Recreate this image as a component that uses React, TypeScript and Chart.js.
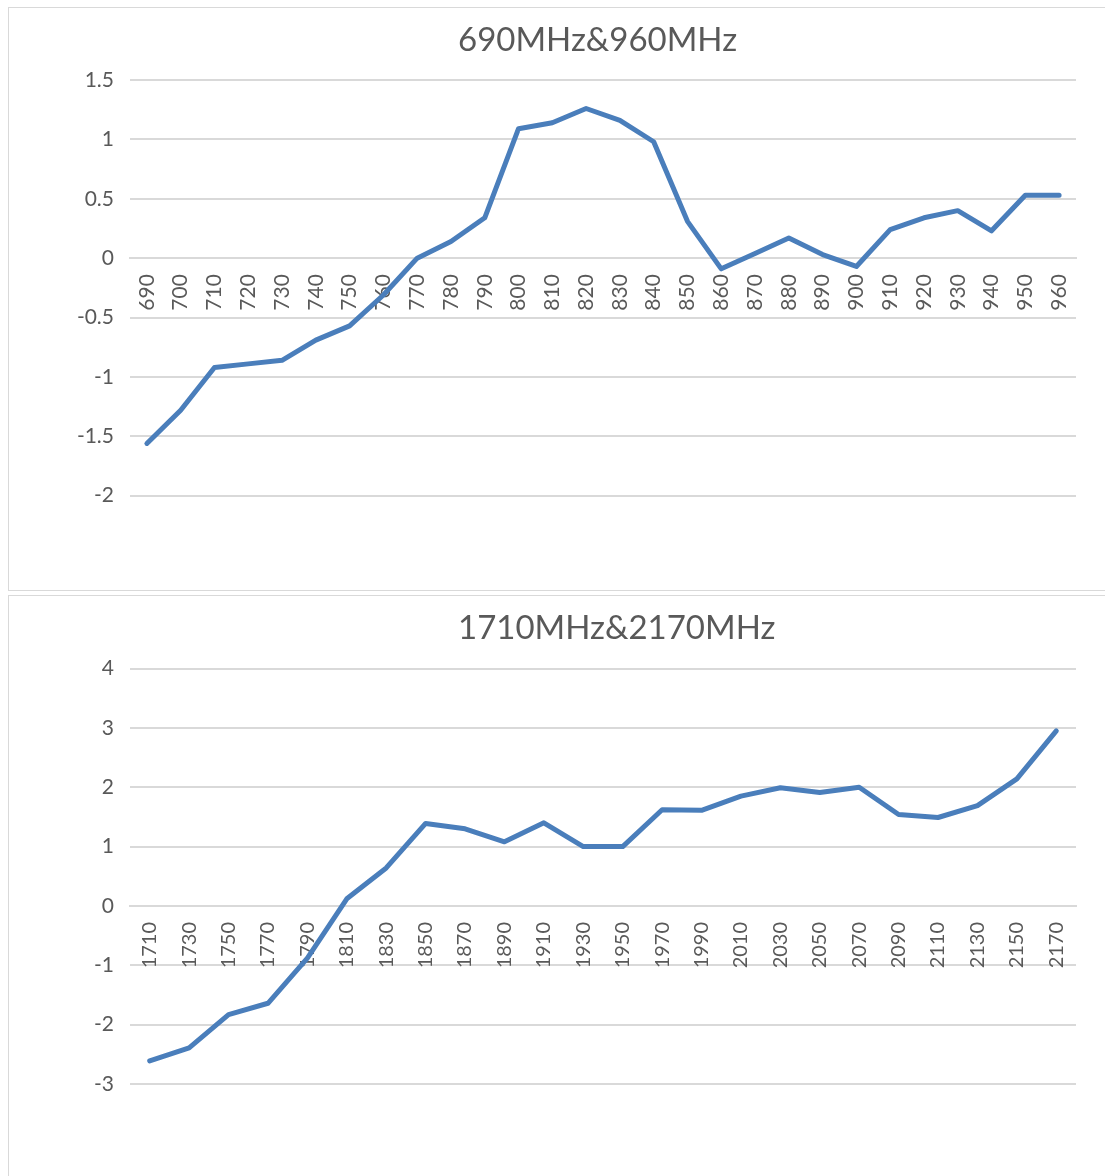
import React, { useEffect, useRef } from "react";
import { Chart, registerables } from "chart.js";

Chart.register(...registerables);

const FONT = "Lato, 'Open Sans', sans-serif";

const lowTitle = "690MHz&960MHz";
const lowLabels = [
  "690", "700", "710", "720", "730", "740", "750", "760", "770", "780",
  "790", "800", "810", "820", "830", "840", "850", "860", "870", "880",
  "890", "900", "910", "920", "930", "940", "950", "960",
];
const lowValues = [
  -1.56, -1.28, -0.92, -0.89, -0.86, -0.69, -0.57, -0.31, 0.0, 0.14,
  0.34, 1.09, 1.14, 1.26, 1.16, 0.98, 0.31, -0.09, 0.04, 0.17,
  0.03, -0.07, 0.24, 0.34, 0.4, 0.23, 0.53, 0.53,
];
const lowYRange = [-2, 1.5];
const lowYStep = 0.5;

const highTitle = "1710MHz&2170MHz";
const highLabels = [
  "1710", "1730", "1750", "1770", "1790", "1810", "1830", "1850", "1870", "1890",
  "1910", "1930", "1950", "1970", "1990", "2010", "2030", "2050", "2070", "2090",
  "2110", "2130", "2150", "2170",
];
const highValues = [
  -2.61, -2.39, -1.83, -1.64, -0.88, 0.12, 0.64, 1.39, 1.3, 1.08,
  1.4, 1.0, 1.0, 1.62, 1.61, 1.85, 1.99, 1.91, 2.0, 1.54,
  1.49, 1.69, 2.14, 2.95,
];
const highYRange = [-3, 4];
const highYStep = 1;

type BoxProps = {
  title: string;
  labels: string[];
  values: number[];
  yRange: number[];
  yStep: number;
  boxTop: number;
  boxHeight: number;
  canvasWidth: number;
  canvasHeight: number;
  titleTopPad: number;
  titleBottomPad: number;
  bottomPad: number;
  xFontSize: number;
};

const AREA_LEFT = 121;
const AREA_RIGHT = 1067;
const TITLE_LEFT = 449;

const titleShift = {
  id: "titleShift",
  afterLayout(chart: any) {
    const t = chart.titleBlock;
    if (t) {
      const w = t.right - t.left;
      t.left = TITLE_LEFT;
      t.right = TITLE_LEFT + w;
    }
  },
};

function LineBox(p: BoxProps) {
  const ref = useRef<HTMLCanvasElement | null>(null);
  useEffect(() => {
    if (!ref.current) return;
    const chart = new Chart(ref.current, {
      type: "line",
      data: {
        labels: p.labels,
        datasets: [
          {
            data: p.values,
            borderColor: "#4a7ebb",
            backgroundColor: "#4a7ebb",
            borderWidth: 5,
            pointRadius: 0,
            pointHoverRadius: 0,
            tension: 0,
            fill: false,
            borderJoinStyle: "round",
            borderCapStyle: "round",
          },
        ],
      },
      options: {
        responsive: false,
        animation: false,
        events: [],
        layout: {
          padding: {
            left: 0,
            right: p.canvasWidth - AREA_RIGHT,
            top: 0,
            bottom: p.bottomPad,
          },
        },
        plugins: {
          legend: { display: false },
          tooltip: { enabled: false },
          title: {
            display: true,
            align: "start",
            text: p.title,
            color: "#595959",
            font: { family: FONT, size: 33, weight: "normal", lineHeight: 1.2 },
            padding: { top: p.titleTopPad, bottom: p.titleBottomPad },
          },
        },
        scales: {
          x: {
            type: "category",
            offset: true,
            position: { y: 0 } as any,
            grid: { display: false, drawTicks: false },
            border: { display: true, color: "#d9d9d9", width: 2 },
            ticks: {
              autoSkip: false,
              minRotation: 90,
              maxRotation: 90,
              padding: 16,
              color: "#595959",
              font: { family: FONT, size: p.xFontSize },
            },
          },
          y: {
            min: p.yRange[0],
            max: p.yRange[1],
            afterFit: (s: any) => {
              s.width = AREA_LEFT;
            },
            grid: { color: "#d9d9d9", lineWidth: 2, drawTicks: false },
            border: { display: false },
            ticks: {
              stepSize: p.yStep,
              padding: 16,
              color: "#595959",
              font: { family: FONT, size: 21 },
              callback: (v: any) => String(Math.round(Number(v) * 100) / 100),
            },
          },
        },
      },
      plugins: [titleShift],
    } as any);
    return () => chart.destroy();
  }, []);

  return (
    <div
      style={{
        position: "absolute",
        left: 0,
        top: p.boxTop,
        width: 1110,
        height: p.boxHeight,
        border: "1px solid #d9d9d9",
        boxSizing: "border-box",
      }}
    >
      <canvas
        ref={ref}
        width={p.canvasWidth}
        height={p.canvasHeight}
        style={{ display: "block", width: p.canvasWidth, height: p.canvasHeight }}
      />
    </div>
  );
}

export default function App() {
  return (
    <div
      style={{
        position: "fixed",
        left: 8,
        top: 7,
        width: 1097,
        height: 1169,
        overflow: "hidden",
        background: "#fff",
      }}
    >
      <LineBox
        title={lowTitle}
        labels={lowLabels}
        values={lowValues}
        yRange={lowYRange}
        yStep={lowYStep}
        boxTop={0}
        boxHeight={584}
        canvasWidth={1108}
        canvasHeight={582}
        titleTopPad={12.2}
        titleBottomPad={20.2}
        bottomPad={94.3}
        xFontSize={21}
      />
      <LineBox
        title={highTitle}
        labels={highLabels}
        values={highValues}
        yRange={highYRange}
        yStep={highYStep}
        boxTop={588}
        boxHeight={600}
        canvasWidth={1108}
        canvasHeight={598}
        titleTopPad={12.7}
        titleBottomPad={20.2}
        bottomPad={110}
        xFontSize={20}
      />
    </div>
  );
}
